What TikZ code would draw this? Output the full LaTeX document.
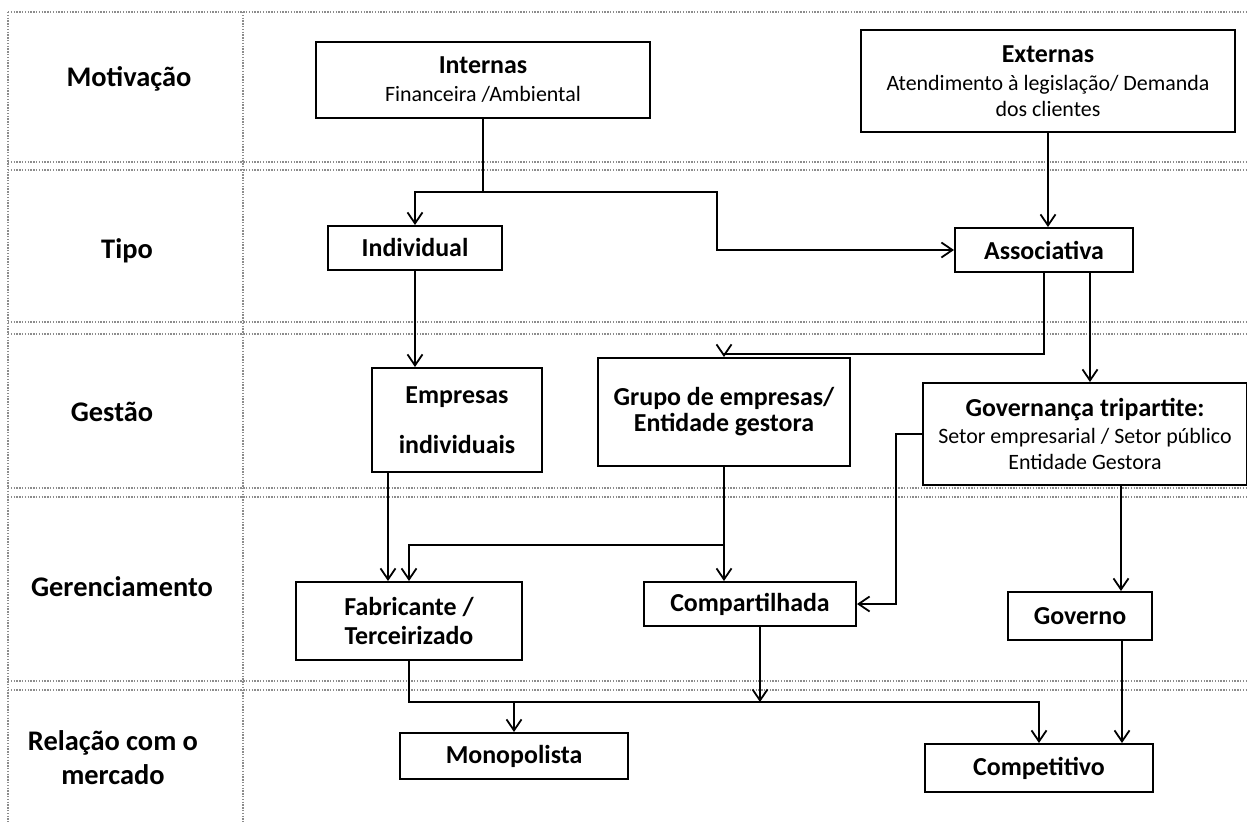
\documentclass[tikz,border=0pt]{standalone}
\usepackage{fontspec}
\setmainfont{Carlito}
\usetikzlibrary{arrows.meta,calc}
\newcommand\ttl[1]{{\bfseries\fontsize{26}{30}\selectfont #1}}
\tikzset{
  grid/.style={draw=black!45, line width=1.2bp, dash pattern=on 1.3bp off 1.5bp},
  box/.style={draw, line width=2bp, align=center, inner sep=0pt,
    font=\fontsize{22}{26}\selectfont},
  sbox/.style={draw, line width=2bp, inner sep=0pt,
    font=\bfseries\fontsize{26}{30}\selectfont},
  conn/.style={line width=2bp},
  arr/.style={conn, -{Straight Barb[length=11bp,width=15bp,line width=1.8bp]}},
  lab/.style={font=\bfseries\fontsize{28.5}{34}\selectfont, align=center},
}
\begin{document}
\begin{tikzpicture}[x=1bp,y=-1bp]
\useasboundingbox (0,0) rectangle (1247,825);

% table of rows
\foreach \yy in {12,162,170,322,334,488,497,681,690}
  \draw[grid] (8,\yy) -- (1247,\yy);
\draw[grid] (8,12) -- (8,822);
\draw[grid] (243,12) -- (243,822);

% row labels
\node[lab] (lmot) at (129,79) {Motivação};
\node[lab] (ltipo) at (127,251) {Tipo};
\node[lab] (lgest) at (112,412) {Gestão};
\node[lab] (lger) at (122,587) {Gerenciamento};
\node[lab] (lrel) at (113,758) {Relação com o\\mercado};

% boxes
\node[box, minimum width=334bp, minimum height=76bp] (internas) at (483,80)
  {\ttl{Internas}\\[2pt] Financeira /Ambiental};
\node[box, minimum width=374bp, minimum height=102bp] (externas) at (1048,81)
  {\ttl{Externas}\\[2pt] Atendimento à legislação/ Demanda\\ dos clientes};
\node[sbox, minimum width=174bp, minimum height=44bp] (individual) at (415,248) {Individual};
\node[sbox, minimum width=178bp, minimum height=44bp] (assoc) at (1044,250) {Associativa};
\node[box, minimum width=170bp, minimum height=104bp] (empind) at (457,420)
  {\ttl{Empresas}\\[24pt]\ttl{individuais}};
\node[box, minimum width=252bp, minimum height=108bp] (grupo) at (724,412)
  {\ttl{Grupo de empresas/}\\[0pt]\ttl{Entidade gestora}};
\node[box, minimum width=324bp, minimum height=102bp] (gov3) at (1085,434)
  {\ttl{Governança tripartite:}\\[1pt] Setor empresarial / Setor público\\ Entidade Gestora};
\node[box, minimum width=226bp, minimum height=78bp] (fabr) at (409,621)
  {\ttl{Fabricante /}\\[3pt]\ttl{Terceirizado}};
\node[sbox, minimum width=212bp, minimum height=44bp] (comp) at (750,604) {Compartilhada};
\node[sbox, minimum width=144bp, minimum height=48bp] (governo) at (1080,616) {Governo};
\node[sbox, minimum width=228bp, minimum height=46bp] (mono) at (514,756) {Monopolista};
\node[sbox, minimum width=228bp, minimum height=48bp] (compet) at (1039,768) {Competitivo};

% connectors
\coordinate (j1) at (483,192);
\draw[conn] (internas.south) -- (j1);
\draw[arr] (j1) -| (individual.north);
\draw[arr] (j1) -- (717,192) |- (assoc.west);
\draw[arr] (externas.south) -- (externas.south |- assoc.north);

\draw[arr] (individual.south) -- (individual.south |- empind.north);
\draw[arr] (assoc.south) -- (1044,354) -| (grupo.north);
\draw[arr] ([xshift=46bp]assoc.south) -- ([xshift=46bp]assoc.south |- gov3.north);

\draw[arr] ([xshift=-69bp]empind.south) -- ([xshift=-69bp]empind.south |- fabr.north);
\draw[arr] (grupo.south) -- (grupo.south |- comp.north);
\coordinate (j2) at (724,545);
\draw[arr] (j2) -| (fabr.north);
\draw[arr] (gov3.west) -- ++(-26,0) |- (comp.east);
\draw[arr] ([xshift=36bp]gov3.south) -- ([xshift=36bp]gov3.south |- governo.north);

\coordinate (j3) at (514,702);
\draw[conn] (fabr.south) |- (j3);
\draw[arr] (j3) -- (mono.north);
\draw[arr] ([xshift=10bp]comp.south) -- ([xshift=10bp]comp.south |- j3);
\draw[arr] (j3) -| (compet.north);
\draw[arr] ([xshift=42bp]governo.south) -- ([xshift=42bp]governo.south |- compet.north);
\end{tikzpicture}
\end{document}
